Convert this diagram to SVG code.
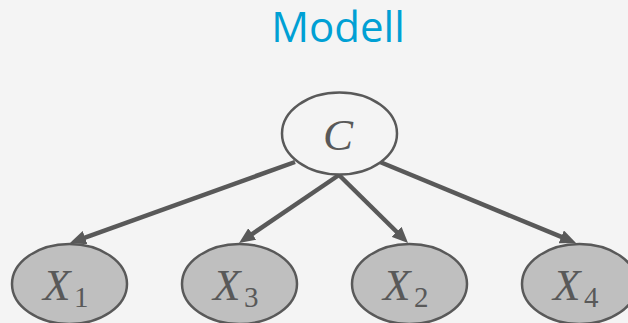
<svg xmlns="http://www.w3.org/2000/svg" width="628" height="323" viewBox="0 0 628 323">
<defs>
<style>
.bg{fill:#f4f4f4}
.title{font-family:"Open Sans","Liberation Sans",sans-serif;font-size:42px;fill:#00a0d4}
.root{fill:#f4f4f4;stroke:#595959;stroke-width:2.5}
.leaf{fill:#bfbfbf;stroke:#595959;stroke-width:2.5}
.var{font-family:"Liberation Serif","DejaVu Serif",serif;font-style:italic;font-size:45px;fill:#595959}
.sub{font-family:"Liberation Serif","DejaVu Serif",serif;font-size:29px;fill:#595959}
.edge{stroke:#595959;stroke-width:4.5;fill:none;marker-end:url(#ah)}
</style>
<marker id="ah" markerUnits="userSpaceOnUse" markerWidth="16" markerHeight="14" viewBox="0 0 16 14" refX="6" refY="7" orient="auto">
<path d="M0,0 L16,7 L0,14 z" fill="#595959"/>
</marker>
</defs>
<rect class="bg" x="0" y="0" width="628" height="323"/>
<text class="title" x="338" y="42" text-anchor="middle">Modell</text>
<g id="connectors">
<line class="edge" x1="295" y1="162" x2="79.4" y2="239.6"/>
<line class="edge" x1="339" y1="175" x2="247.3" y2="237.4"/>
<line class="edge" x1="339" y1="175" x2="400.9" y2="236"/>
<line class="edge" x1="380" y1="162" x2="566.8" y2="239.2"/>
</g>
<g id="C">
<ellipse class="root" cx="339.5" cy="133.5" rx="57.5" ry="41"/>
<text class="var" x="338" y="150" text-anchor="middle">C</text>
</g>
<g id="X1">
<ellipse class="leaf" cx="69.5" cy="284" rx="57.5" ry="40"/>
<text class="var" x="43" y="300">X</text><text class="sub" x="74" y="307">1</text>
</g>
<g id="X3">
<ellipse class="leaf" cx="239.5" cy="284" rx="57.5" ry="40"/>
<text class="var" x="213" y="300">X</text><text class="sub" x="244" y="307">3</text>
</g>
<g id="X2">
<ellipse class="leaf" cx="409.5" cy="284" rx="57.5" ry="40"/>
<text class="var" x="383" y="300">X</text><text class="sub" x="414" y="307">2</text>
</g>
<g id="X4">
<ellipse class="leaf" cx="579.5" cy="284" rx="57.5" ry="40"/>
<text class="var" x="553" y="300">X</text><text class="sub" x="584" y="307">4</text>
</g>
</svg>
